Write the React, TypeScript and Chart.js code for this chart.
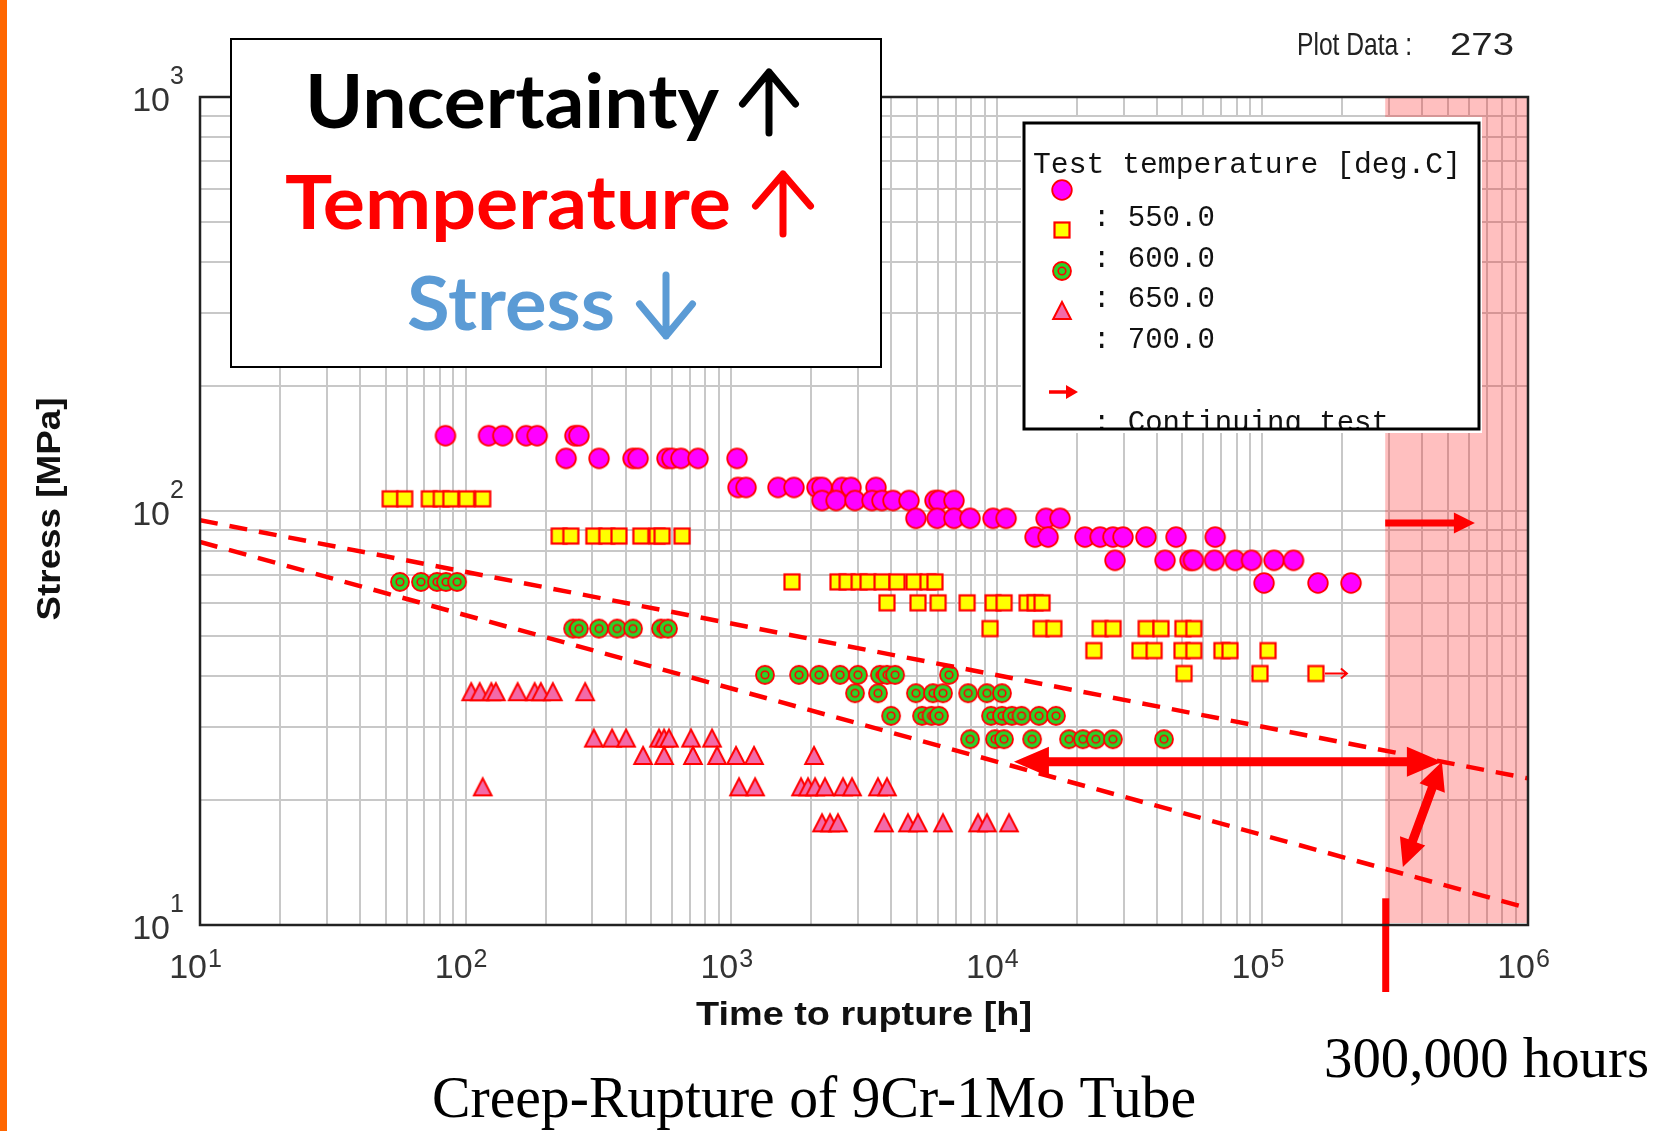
import React, { useEffect, useRef } from "react";
import { Chart, registerables } from "chart.js";

Chart.register(...registerables);

const W = 1660;
const H = 1131;

// ---- 550 deg.C (magenta circles): one stress level per row ----
const stress550 = [152, 134, 114, 106, 96, 86.5, 76, 67];
const times550 = [
  [84, 122, 138, 169, 186, 258, 267],
  [239, 318, 427, 446, 573, 598, 647, 750, 1052],
  [1061, 1137, 1500, 1723, 2103, 2198, 2614, 2826, 3508],
  [2198, 2483, 2925, 3390, 3696, 4066, 4670, 5850, 6060, 6900],
  [4960, 5960, 6900, 7930, 9680, 10840, 15320, 17300],
  [13930, 15600, 21480, 24480, 27360, 29850, 36450, 47300, 66400],
  [27860, 43000, 53400, 55000, 66000, 79000, 91000, 110600, 131000],
  [101400, 161900, 215600],
];

// ---- 600 deg.C (yellow squares) ----
const stress600 = [107, 87, 67.4, 60, 52, 46, 40.5];
const times600 = [
  [52, 59, 73, 81, 88, 101, 116],
  [225, 249, 304, 340, 378, 457, 526, 549, 653],
  [1694, 2523, 2731, 3030, 3275, 3697, 4211, 4876, 5504, 5852],
  [3860, 5050, 6010, 7730, 9680, 10650, 13000, 13940, 14800],
  [9430, 14670, 16400, 24500, 27400, 36500, 41500, 50200, 55200],
  [23200, 34600, 39100, 49800, 55200, 70400, 75500, 105000],
  [50700, 97900, 159000],
];

// ---- 650 deg.C (green targets) ----
const stress650 = [67.4, 52, 40.2, 36.3, 32, 28.1];
const times650 = [
  [56.6, 67.9, 78, 84.4, 92.9],
  [254, 267, 318, 372, 427, 544, 578],
  [1340, 1800, 2142, 2570, 3000, 3630, 3860, 4140, 6610],
  [2925, 3570, 4960, 5750, 6270, 7800, 9180, 10460],
  [4000, 5230, 5680, 6060, 9510, 10460, 11400, 12390, 14420, 16700],
  [7930, 9840, 10640, 13580, 18700, 21100, 23600, 27360, 42600],
];

// ---- 700 deg.C (pink triangles) ----
const stress700 = [36.5, 28.2, 25.6, 21.5, 17.6];
const times700 = [
  [105, 113, 125, 130, 157, 182, 192, 213, 282],
  [304, 356, 402, 535, 559, 583, 706, 847],
  [466, 559, 718, 885, 1043, 1219, 2050],
  [116, 1070, 1230, 1832, 1947, 2070, 2255, 2637, 2850, 3570, 3860],
  [2198, 2356, 2524, 3760, 4630, 5050, 6270, 8500, 9180, 11120],
];

// continuing test (still running)
const continuingTime = [159000];
const continuingStress = [40.5];

// scatter band (dashed lines)
const upperBandTime = [10, 1000000];
const upperBandStress = [95, 22.6];
const lowerBandTime = [10, 940000];
const lowerBandStress = [84.2, 11.1];

// annotations (data coordinates)
const extrapolationStart = 290000; // ~300,000 hours
const spanArrowTime = [11600, 474000];
const spanArrowStress = [24.8, 24.8];
const gapArrowTime = [474000, 338000];
const gapArrowStress = [24.8, 13.8];
const rightArrowTime = [290000, 631000];
const rightArrowStress = [93.5, 93.5];

// axes
const xRange = [10, 1000000];
const yRange = [10, 1000];
const xDecadeExponents = [1, 2, 3, 4, 5, 6];
const yDecadeExponents = [1, 2, 3];
const gridMultipliers = [1, 2, 3, 4, 5, 6, 7, 8, 9];

const legendTitle = "Test temperature [deg.C]";
const legendLabels = [": 550.0", ": 600.0", ": 650.0", ": 700.0"];
const legendContinuing = ": Continuing test";

function gridValues(minV: number, maxV: number) {
  const vals: number[] = [];
  for (let d = minV; d < maxV; d *= 10) {
    gridMultipliers.forEach((m) => vals.push(d * m));
  }
  vals.push(maxV);
  return vals;
}

function toPoints(stress: number[], times: number[][]) {
  const pts: { x: number; y: number }[] = [];
  stress.forEach((s, i) => times[i].forEach((t) => pts.push({ x: t, y: s })));
  return pts;
}

function makeMarker(kind: string) {
  const c = document.createElement("canvas");
  c.width = 26;
  c.height = 26;
  const g = c.getContext("2d")!;
  const m = 13;
  g.lineJoin = "miter";
  if (kind === "circle") {
    g.beginPath();
    g.arc(m, m, 9.8, 0, Math.PI * 2);
    g.fillStyle = "#ff00ff";
    g.fill();
    g.lineWidth = 1.8;
    g.strokeStyle = "#ff0000";
    g.stroke();
  } else if (kind === "square") {
    g.fillStyle = "#ffff00";
    g.fillRect(m - 7.5, m - 7.5, 15, 15);
    g.lineWidth = 2.2;
    g.strokeStyle = "#ff0000";
    g.strokeRect(m - 7.5, m - 7.5, 15, 15);
  } else if (kind === "target") {
    g.beginPath();
    g.arc(m, m, 9, 0, Math.PI * 2);
    g.fillStyle = "#2ad42a";
    g.fill();
    g.lineWidth = 1.8;
    g.strokeStyle = "#ff0000";
    g.stroke();
    g.beginPath();
    g.arc(m, m, 3.8, 0, Math.PI * 2);
    g.lineWidth = 1.6;
    g.stroke();
  } else {
    g.beginPath();
    g.moveTo(m, m - 9);
    g.lineTo(m + 8.8, m + 8);
    g.lineTo(m - 8.8, m + 8);
    g.closePath();
    g.fillStyle = "#f36aa8";
    g.fill();
    g.lineWidth = 2;
    g.strokeStyle = "#ff0000";
    g.stroke();
  }
  return c;
}

function fitText(
  ctx: CanvasRenderingContext2D,
  text: string,
  font: string,
  color: string,
  x: number,
  y: number,
  width: number,
  align: "left" | "center" | "right" = "left"
) {
  ctx.save();
  ctx.font = font;
  ctx.fillStyle = color;
  ctx.textAlign = "left";
  ctx.textBaseline = "alphabetic";
  const m = ctx.measureText(text).width;
  const s = width > 0 ? width / m : 1;
  let left = x;
  if (align === "center") left = x - (m * s) / 2;
  else if (align === "right") left = x - m * s;
  ctx.translate(left, y);
  ctx.scale(s, 1);
  ctx.fillText(text, 0, 0);
  ctx.restore();
}

function blockArrow(
  ctx: CanvasRenderingContext2D,
  x1: number,
  y1: number,
  x2: number,
  y2: number,
  shaft: number,
  headLen: number,
  headW: number,
  both: boolean,
  color: string
) {
  const dx = x2 - x1;
  const dy = y2 - y1;
  const L = Math.hypot(dx, dy);
  const ux = dx / L;
  const uy = dy / L;
  const nx = -uy;
  const ny = ux;
  const P = (s: number, t: number) => [x1 + ux * s + nx * t, y1 + uy * s + ny * t];
  const pts = both
    ? [
        P(0, 0),
        P(headLen, headW / 2),
        P(headLen, shaft / 2),
        P(L - headLen, shaft / 2),
        P(L - headLen, headW / 2),
        P(L, 0),
        P(L - headLen, -headW / 2),
        P(L - headLen, -shaft / 2),
        P(headLen, -shaft / 2),
        P(headLen, -headW / 2),
      ]
    : [
        P(0, shaft / 2),
        P(L - headLen, shaft / 2),
        P(L - headLen, headW / 2),
        P(L, 0),
        P(L - headLen, -headW / 2),
        P(L - headLen, -shaft / 2),
        P(0, -shaft / 2),
      ];
  ctx.save();
  ctx.fillStyle = color;
  ctx.beginPath();
  pts.forEach((p, i) => (i === 0 ? ctx.moveTo(p[0], p[1]) : ctx.lineTo(p[0], p[1])));
  ctx.closePath();
  ctx.fill();
  ctx.restore();
}

function chevronArrow(
  ctx: CanvasRenderingContext2D,
  x: number,
  yTail: number,
  yTip: number,
  half: number,
  headH: number,
  color: string,
  lw: number
) {
  const dir = yTip < yTail ? 1 : -1;
  ctx.save();
  ctx.strokeStyle = color;
  ctx.lineWidth = lw;
  ctx.lineCap = "round";
  ctx.lineJoin = "round";
  ctx.beginPath();
  ctx.moveTo(x, yTail);
  ctx.lineTo(x, yTip);
  ctx.moveTo(x - half, yTip + dir * headH);
  ctx.lineTo(x, yTip);
  ctx.lineTo(x + half, yTip + dir * headH);
  ctx.stroke();
  ctx.restore();
}

export default function App() {
  const ref = useRef<HTMLCanvasElement>(null);

  useEffect(() => {
    const canvas = ref.current!;
    const mk = {
      circle: makeMarker("circle"),
      square: makeMarker("square"),
      target: makeMarker("target"),
      triangle: makeMarker("triangle"),
    };

    const overlay = {
      id: "overlay",
      beforeDraw(chart: any) {
        const ctx = chart.ctx as CanvasRenderingContext2D;
        ctx.save();
        ctx.fillStyle = "#ffffff";
        ctx.fillRect(0, 0, W, H);
        ctx.fillStyle = "#ff6600";
        ctx.fillRect(0, 0, 7, H);
        ctx.restore();
      },
      beforeDatasetsDraw(chart: any) {
        const ctx = chart.ctx as CanvasRenderingContext2D;
        const a = chart.chartArea;
        const px = chart.scales.x.getPixelForValue(extrapolationStart);
        ctx.save();
        ctx.fillStyle = "rgba(255,0,0,0.25)";
        ctx.fillRect(px, a.top, a.right - px, a.bottom - a.top - 2);
        ctx.restore();
      },
      afterDatasetsDraw(chart: any) {
        const ctx = chart.ctx as CanvasRenderingContext2D;
        const a = chart.chartArea;
        const xs = chart.scales.x;
        const ys = chart.scales.y;
        const X = (v: number) => xs.getPixelForValue(v);
        const Y = (v: number) => ys.getPixelForValue(v);
        const red = "#ff0000";

        // continuing-test arrows
        continuingTime.forEach((t, i) => {
          const cx = X(t);
          const cy = Y(continuingStress[i]);
          ctx.save();
          ctx.strokeStyle = red;
          ctx.lineWidth = 2;
          ctx.beginPath();
          ctx.moveTo(cx + 9, cy);
          ctx.lineTo(cx + 31, cy);
          ctx.moveTo(cx + 25, cy - 5);
          ctx.lineTo(cx + 31, cy);
          ctx.lineTo(cx + 25, cy + 5);
          ctx.stroke();
          ctx.restore();
        });

        // annotation arrows
        blockArrow(ctx, X(spanArrowTime[0]), Y(spanArrowStress[0]), X(spanArrowTime[1]), Y(spanArrowStress[1]), 9, 35, 30, true, red);
        blockArrow(ctx, X(gapArrowTime[0]), Y(gapArrowStress[0]), X(gapArrowTime[1]), Y(gapArrowStress[1]), 9, 28, 27, true, red);
        blockArrow(ctx, X(rightArrowTime[0]), Y(rightArrowStress[0]), X(rightArrowTime[1]), Y(rightArrowStress[1]), 7, 21, 21, false, red);

        // vertical marker at 300,000 h
        const vx = X(extrapolationStart);
        ctx.save();
        ctx.fillStyle = red;
        ctx.fillRect(vx - 3, Y(11.6), 7, a.bottom + 67 - Y(11.6));
        ctx.restore();

        // plot frame
        ctx.save();
        ctx.strokeStyle = "#222";
        ctx.lineWidth = 2.5;
        ctx.strokeRect(a.left, a.top, a.right - a.left, a.bottom - a.top);
        ctx.restore();

        // legend
        ctx.save();
        ctx.fillStyle = "#ffffff";
        ctx.fillRect(1021, 117, 461, 316);
        ctx.restore();
        const monoFont = '29px "Liberation Mono", "Courier New", monospace';
        fitText(ctx, legendTitle, monoFont, "#111", 1033, 173, 428);
        const legendMarkers = [mk.circle, mk.square, mk.target, mk.triangle];
        const markerY = [190, 230, 271, 311];
        const labelY = [226, 267, 307, 348];
        legendMarkers.forEach((m, i) => ctx.drawImage(m, 1062 - 13, markerY[i] - 13));
        legendLabels.forEach((l, i) => fitText(ctx, l, monoFont, "#111", 1093, labelY[i], 0));
        blockArrow(ctx, 1049, 392, 1078, 392, 3.5, 12, 14, false, red);
        ctx.save();
        ctx.beginPath();
        ctx.rect(1024, 123, 455, 305);
        ctx.clip();
        fitText(ctx, legendContinuing, monoFont, "#111", 1093, 431, 0);
        ctx.restore();
        ctx.save();
        ctx.strokeStyle = "#000";
        ctx.lineWidth = 3;
        ctx.strokeRect(1024, 123, 455, 306);
        ctx.restore();

        // message box
        ctx.save();
        ctx.fillStyle = "#ffffff";
        ctx.fillRect(231, 39, 650, 328);
        ctx.strokeStyle = "#000";
        ctx.lineWidth = 2;
        ctx.strokeRect(231, 39, 650, 328);
        ctx.restore();
        const boxFont = 'bold 74px Lato, "Open Sans", sans-serif';
        fitText(ctx, "Uncertainty", boxFont, "#000000", 305, 128, 414);
        chevronArrow(ctx, 769, 133, 72, 26.5, 32, "#000000", 7);
        fitText(ctx, "Temperature", boxFont, "#ff0000", 285, 229, 446);
        chevronArrow(ctx, 783, 234, 174, 27.5, 32, "#ff0000", 7);
        fitText(ctx, "Stress", boxFont, "#5b9bd5", 407, 330, 208);
        chevronArrow(ctx, 666, 275, 336, 26.5, 32, "#5b9bd5", 7);

        // tick labels
        const tickFont = '34px "Liberation Sans", Arial, sans-serif';
        const supFont = '25px "Liberation Sans", Arial, sans-serif';
        xDecadeExponents.forEach((e) => {
          const px = X(Math.pow(10, e));
          fitText(ctx, "10", tickFont, "#333", px + 7, a.bottom + 53, 0, "right");
          fitText(ctx, String(e), supFont, "#333", px + 8, a.bottom + 42, 0);
        });
        yDecadeExponents.forEach((e) => {
          const py = Y(Math.pow(10, e));
          fitText(ctx, "10", tickFont, "#333", 170, py + 14, 0, "right");
          fitText(ctx, String(e), supFont, "#333", 170, py - 13, 0);
        });

        // axis titles
        const titleFont = 'bold 33px "Liberation Sans", Arial, sans-serif';
        fitText(ctx, "Time to rupture [h]", titleFont, "#111", 864, 1025, 336, "center");
        ctx.save();
        ctx.translate(60, 509);
        ctx.rotate(-Math.PI / 2);
        fitText(ctx, "Stress [MPa]", titleFont, "#111", 0, 0, 223, "center");
        ctx.restore();

        // header
        const headFont = '32px "Liberation Sans", Arial, sans-serif';
        fitText(ctx, "Plot Data :", headFont, "#222", 1297, 55, 115);
        fitText(ctx, "273", headFont, "#222", 1450, 55, 64);

        // captions
        const serif = '"Liberation Serif", "Times New Roman", serif';
        fitText(ctx, "300,000 hours", "57px " + serif, "#000", 1324, 1077, 325);
        fitText(ctx, "Creep-Rupture of 9Cr-1Mo Tube", "59px " + serif, "#000", 432, 1117, 764);
      },
    };

    const scatter = (data: any[], marker: HTMLCanvasElement, order: number) => ({
      data,
      pointStyle: marker,
      pointRadius: 10,
      pointHoverRadius: 10,
      showLine: false,
      order,
    });
    const band = (times: number[], stresses: number[]) => ({
      data: times.map((t, i) => ({ x: t, y: stresses[i] })),
      showLine: true,
      borderColor: "#ff0000",
      borderWidth: 4.5,
      borderDash: [18, 12],
      pointRadius: 0,
      fill: false,
      order: 0,
    });

    const chart = new Chart(canvas, {
      type: "scatter",
      data: {
        datasets: [
          band(upperBandTime, upperBandStress),
          band(lowerBandTime, lowerBandStress),
          scatter(toPoints(stress550, times550), mk.circle, 4),
          scatter(toPoints(stress600, times600), mk.square, 3),
          scatter(toPoints(stress650, times650), mk.target, 2),
          scatter(toPoints(stress700, times700), mk.triangle, 1),
        ] as any,
      },
      options: {
        responsive: false,
        animation: false,
        devicePixelRatio: 1,
        events: [],
        layout: { padding: { left: 200, top: 97, right: 132, bottom: 206 } },
        plugins: { legend: { display: false }, tooltip: { enabled: false } },
        scales: {
          x: {
            type: "logarithmic",
            min: xRange[0],
            max: xRange[1],
            border: { display: false },
            grid: { color: "#c8c8c8", lineWidth: 2, drawTicks: false },
            ticks: { display: false },
            afterBuildTicks: (s: any) => {
              s.ticks = gridValues(xRange[0], xRange[1]).map((value) => ({ value }));
            },
            afterFit: (s: any) => {
              s.height = 0;
            },
          },
          y: {
            type: "logarithmic",
            min: yRange[0],
            max: yRange[1],
            border: { display: false },
            grid: { color: "#c8c8c8", lineWidth: 2, drawTicks: false },
            ticks: { display: false },
            afterBuildTicks: (s: any) => {
              s.ticks = gridValues(yRange[0], yRange[1]).map((value) => ({ value }));
            },
            afterFit: (s: any) => {
              s.width = 0;
            },
          },
        },
      } as any,
      plugins: [overlay],
    });

    return () => chart.destroy();
  }, []);

  return (
    <div style={{ position: "absolute", left: 0, top: 0, width: W, height: H, background: "#fff" }}>
      <canvas ref={ref} width={W} height={H} style={{ display: "block", width: W, height: H }} />
    </div>
  );
}
